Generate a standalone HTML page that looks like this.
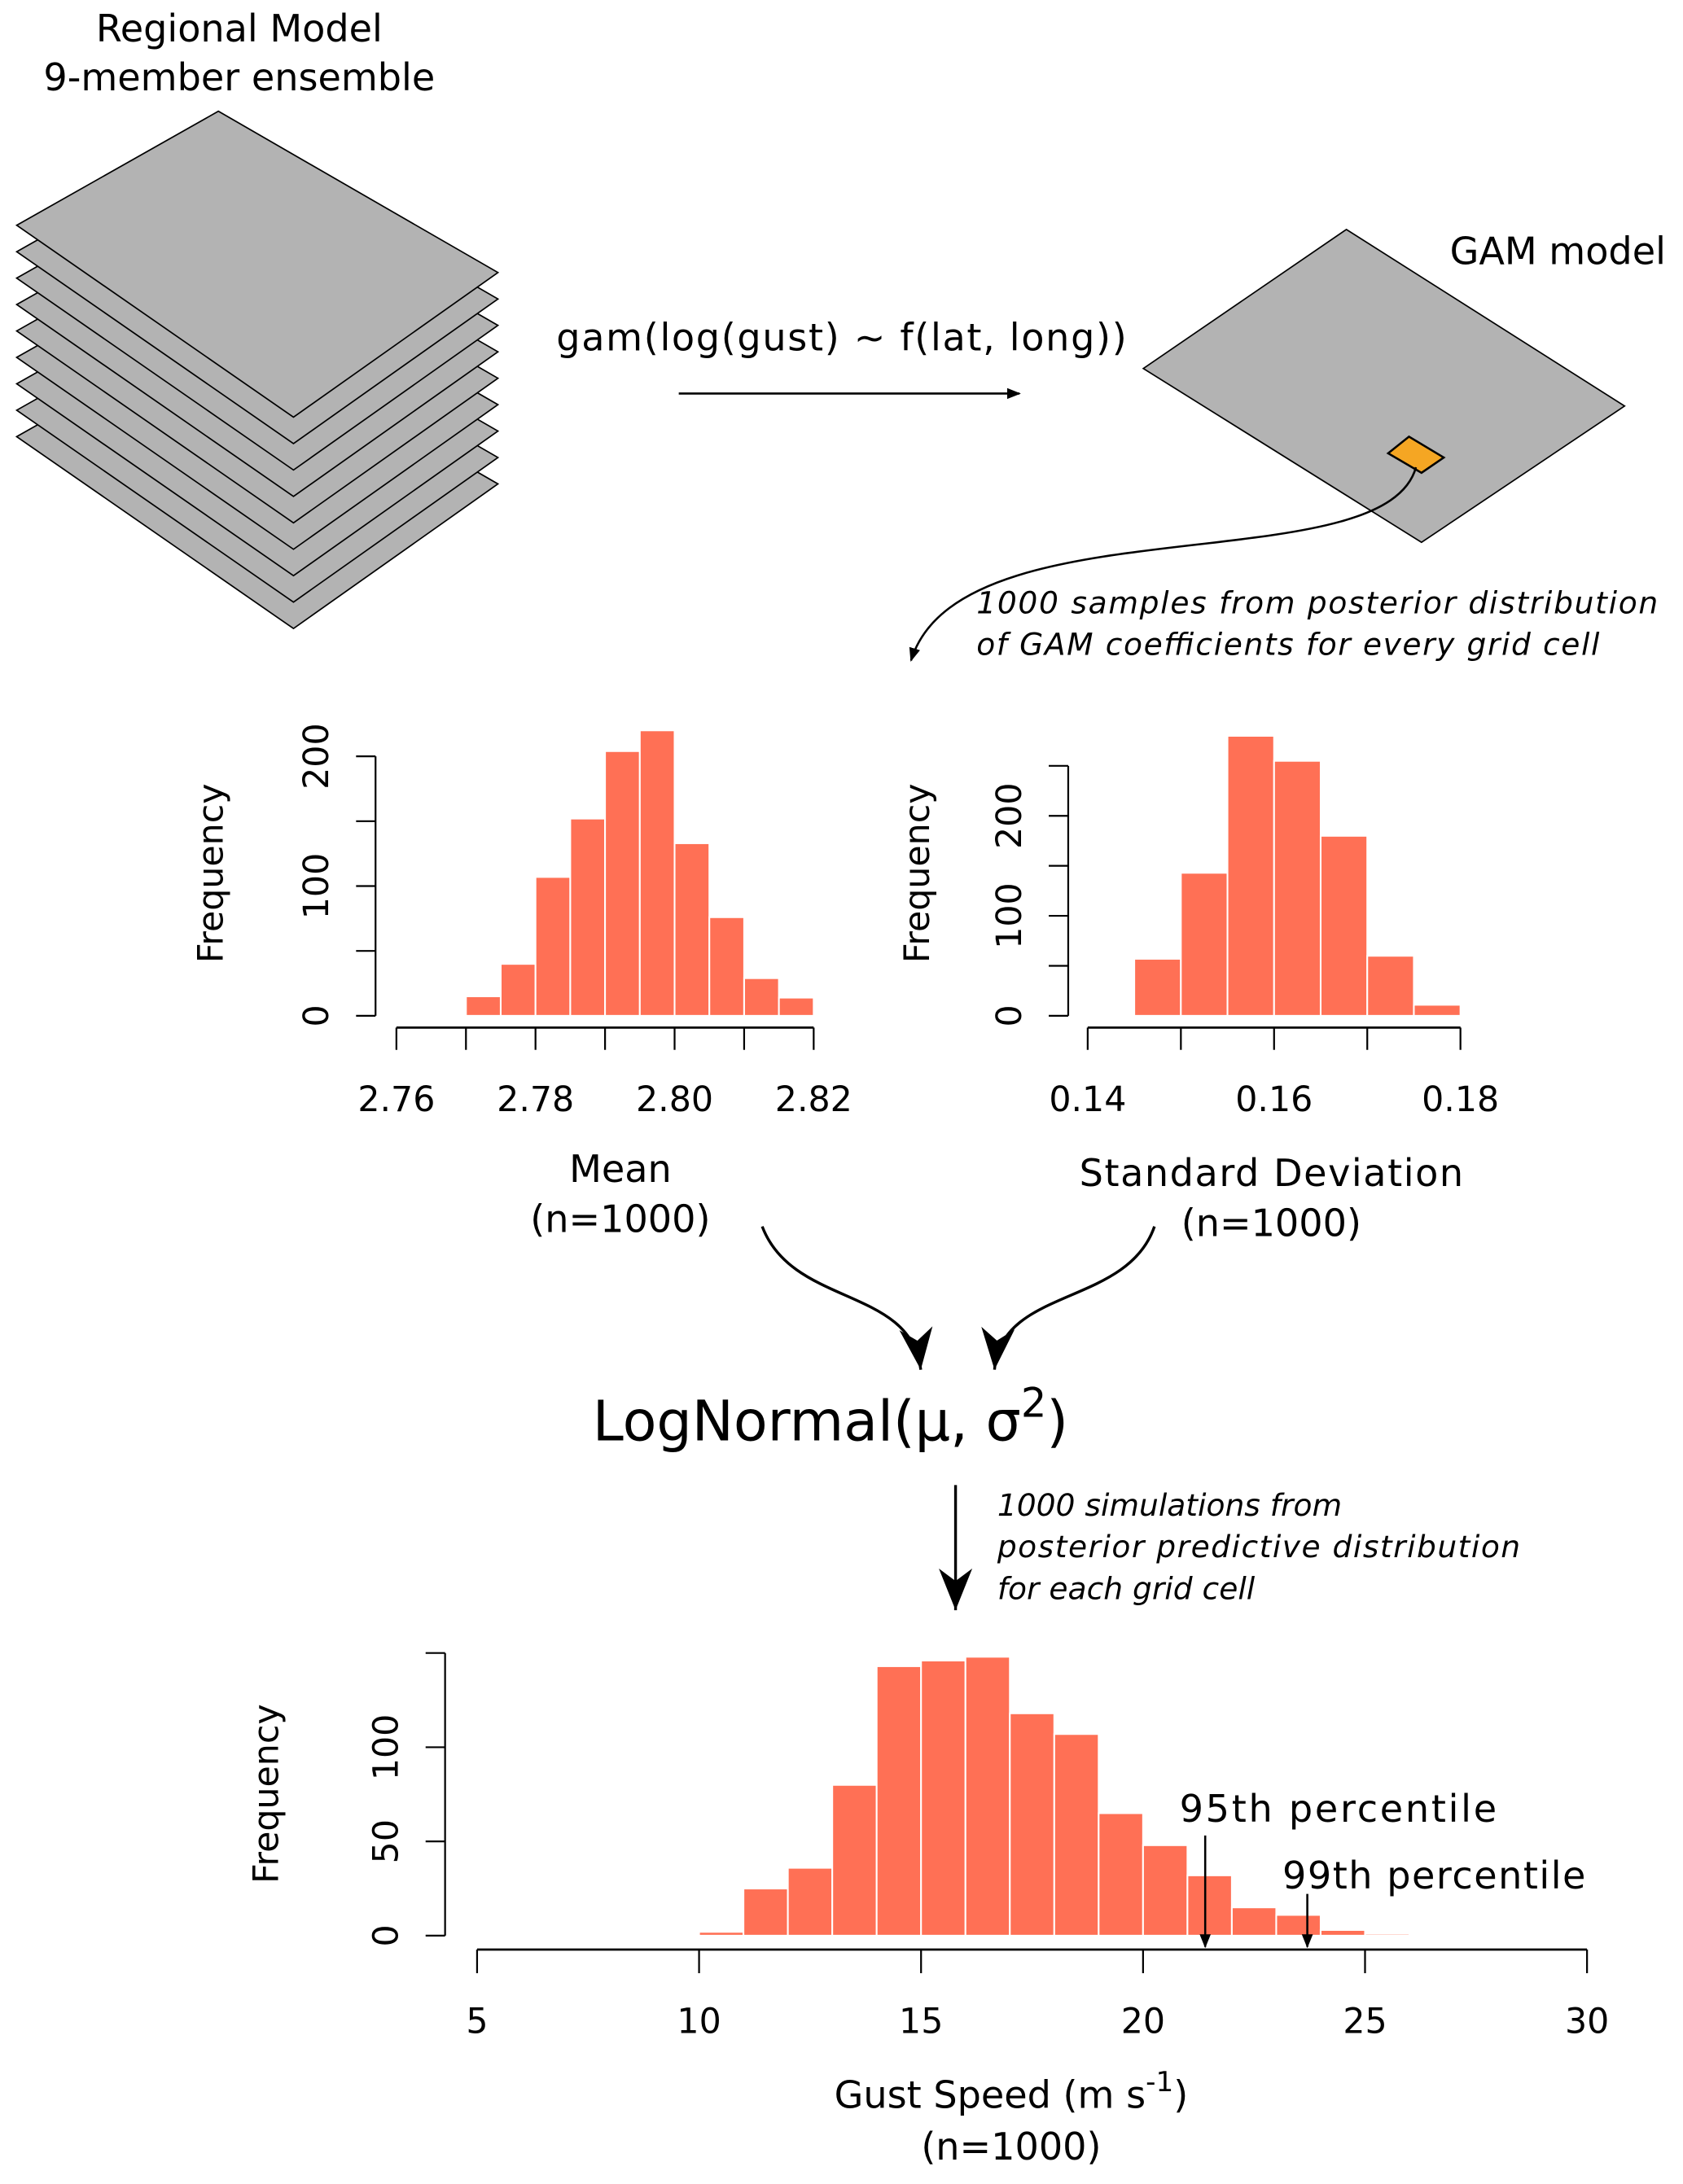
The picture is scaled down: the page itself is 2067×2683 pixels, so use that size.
<!DOCTYPE html>
<html><head><meta charset="utf-8"><style>
html,body{margin:0;padding:0;background:#fff}
svg{display:block;font-family:"DejaVu Sans","Liberation Sans",sans-serif}
</style></head><body>
<svg id="fig" width="2067" height="2683" viewBox="0 0 1210 1570.6" preserveAspectRatio="none" xmlns="http://www.w3.org/2000/svg">
<defs>
<marker id="ah" markerWidth="10" markerHeight="10" refX="9" refY="5" orient="auto" markerUnits="userSpaceOnUse"><path d="M0,1 L10,5 L0,9 Z" fill="#000"/></marker>
<marker id="ahb" markerWidth="32" markerHeight="26" refX="30" refY="12" orient="auto" markerUnits="userSpaceOnUse" viewBox="0 0 32 24"><path d="M30,12 L0,0 L9,12 L0,24 Z" fill="#000"/></marker>
</defs>
<g id="stack"></g>
<text x="172" y="30" font-size="27" text-anchor="middle">Regional Model</text>
<text x="172" y="65" font-size="27" text-anchor="middle">9-member ensemble</text>
<text x="400" y="252" font-size="27" textLength="410">gam(log(gust) ~ f(lat, long))</text>
<line x1="488" y1="283" x2="733" y2="283" stroke="#000" stroke-width="1.5" marker-end="url(#ah)"/>
<text x="1120" y="190" font-size="27" text-anchor="middle">GAM model</text>
<polygon points="822,265 968,165 1168,292 1022,390" fill="#b3b3b3" stroke="#000" stroke-width="1"/>
<polygon points="998,326 1013,314 1038,329 1022,340" fill="#f5a623" stroke="#000" stroke-width="1.5"/>
<path d="M1018,336 C995,420 690,360 655,475" fill="none" stroke="#000" stroke-width="1.5" marker-end="url(#ah)"/>
<text x="702" y="441" font-size="22" font-style="italic" textLength="490">1000 samples from posterior distribution</text>
<text x="702" y="471" font-size="22" font-style="italic" textLength="448">of GAM coefficients for every grid cell</text>
<g id="h1"></g>
<g id="h2"></g>
<text x="446" y="850" font-size="27" text-anchor="middle">Mean</text>
<text x="446" y="886" font-size="27" text-anchor="middle">(n=1000)</text>
<text x="914" y="853" font-size="27" text-anchor="middle" textLength="276">Standard Deviation</text>
<text x="914" y="889" font-size="27" text-anchor="middle">(n=1000)</text>
<path d="M548,882 C570,940 655,925 662,985" fill="none" stroke="#000" stroke-width="2" marker-end="url(#ahb)"/>
<path d="M830,882 C810,940 720,925 715,985" fill="none" stroke="#000" stroke-width="2" marker-end="url(#ahb)"/>
<text x="426" y="1036" font-size="40">LogNormal(μ, σ<tspan font-size="29" dy="-17">2</tspan><tspan dy="17">)</tspan></text>
<line x1="687" y1="1068" x2="687" y2="1158" stroke="#000" stroke-width="2" marker-end="url(#ahb)"/>
<text x="717" y="1090" font-size="22" font-style="italic">1000 simulations from</text>
<text x="717" y="1120" font-size="22" font-style="italic" textLength="376">posterior predictive distribution</text>
<text x="717" y="1150" font-size="22" font-style="italic">for each grid cell</text>
<g id="h3"></g>
<text x="727" y="1516" font-size="27" text-anchor="middle">Gust Speed (m s<tspan font-size="20" dy="-12">-1</tspan><tspan dy="12">)</tspan></text>
<text x="727" y="1553" font-size="27" text-anchor="middle">(n=1000)</text>
</svg>
<script>
// Mean histogram data
const meanBins = [2.770,2.775,2.780,2.785,2.790,2.795,2.800,2.805,2.810,2.815];
const meanCounts = [15,40,107,152,204,220,133,76,29,14];
const meanXTicks = [2.76,2.78,2.80,2.82];
const meanXLabels = ["2.76","2.78","2.80","2.82"];
const meanYTicks = [0,50,100,150,200];
const meanYLabels = ["0","","100","","200"];
// SD histogram data
const sdBins = [0.145,0.150,0.155,0.160,0.165,0.170,0.175];
const sdCounts = [57,143,280,255,180,60,11];
const sdXTicks = [0.14,0.16,0.18];
const sdXLabels = ["0.14","0.16","0.18"];
const sdYTicks = [0,50,100,150,200,250];
const sdYLabels = ["0","","100","","200",""];
// Gust histogram data
const gustBins = [10,11,12,13,14,15,16,17,18,19,20,21,22,23,24,25];
const gustCounts = [2,25,36,80,143,146,148,118,107,65,48,32,15,11,3,1];
const gustXTicks = [5,10,15,20,25,30];
const gustXLabels = ["5","10","15","20","25","30"];
const gustYTicks = [0,50,100,150];
const gustYLabels = ["0","50","100",""];
const p95 = 21.4, p99 = 23.7;

const NS="http://www.w3.org/2000/svg";
function mk(tag, attrs, parent){const e=document.createElementNS(NS,tag);for(const k in attrs)e.setAttribute(k,attrs[k]);parent.appendChild(e);return e;}

const stack=document.getElementById('stack');
for(let i=8;i>=0;i--){
  const d=i*19;
  const p=mk('polygon',{points:`12,${162+d} 157,${80+d} 358,${196+d} 211,${300+d}`,fill:'#b3b3b3',stroke:'#000','stroke-width':1},stack);
  
  
}

function hist(g, cfg){
  const sx=v=>cfg.x0+(v-cfg.xmin)/(cfg.xmax-cfg.xmin)*(cfg.x1-cfg.x0);
  const sy=v=>cfg.y0-v*cfg.ky;
  cfg.bins.forEach((b,i)=>{
    const r=mk('rect',{x:sx(b),y:sy(cfg.counts[i]),width:sx(b+cfg.w)-sx(b),height:sy(0)-sy(cfg.counts[i]),fill:'#ff7055',stroke:'#fff','stroke-width':1.2},g);
    
    
  });
  const ya=mk('line',{x1:cfg.yax,x2:cfg.yax,y1:sy(cfg.yt[0]),y2:sy(cfg.yt[cfg.yt.length-1]),stroke:'#000','stroke-width':1.3},g);
  
  
  cfg.yt.forEach((t,i)=>{
    mk('line',{x1:cfg.yax-14,x2:cfg.yax,y1:sy(t),y2:sy(t),stroke:'#000','stroke-width':1.3},g);
    if(cfg.yl[i]){
      const tx=mk('text',{x:0,y:0,'font-size':25,'text-anchor':'middle',transform:`translate(${cfg.yax-34},${sy(t)}) rotate(-90)`},g);
      tx.textContent=cfg.yl[i];
      
      
    }
  });
  const yt=mk('text',{x:0,y:0,'font-size':25,'text-anchor':'middle',transform:`translate(${cfg.ytitleX},${cfg.ytitleY}) rotate(-90)`},g);
  yt.textContent='Frequency';
  
  
  const xa=mk('line',{x1:sx(cfg.xt[0]),x2:sx(cfg.xt[cfg.xt.length-1]),y1:cfg.xay,y2:cfg.xay,stroke:'#000','stroke-width':1.6},g);
  
  
  const minor = cfg.minor||[];
  cfg.xt.concat(minor).forEach(t=>mk('line',{x1:sx(t),x2:sx(t),y1:cfg.xay,y2:cfg.xay+cfg.tickLen,stroke:'#000','stroke-width':1.3},g));
  cfg.xt.forEach((t,i)=>{
    const tx=mk('text',{x:sx(t),y:cfg.xlabY,'font-size':25,'text-anchor':'middle'},g);
    tx.textContent=cfg.xl[i];
    
    
  });
  return {sx,sy};
}
hist(document.getElementById('h1'),{bins:meanBins,counts:meanCounts,w:0.005,xmin:2.76,xmax:2.82,x0:285,x1:585,y0:730.5,ky:0.933,
  yt:meanYTicks,yl:meanYLabels,yax:270,ytitleX:160,ytitleY:628,xt:meanXTicks,xl:meanXLabels,minor:[2.77,2.79,2.81],xay:739,tickLen:16,xlabY:799});
hist(document.getElementById('h2'),{bins:sdBins,counts:sdCounts,w:0.005,xmin:0.14,xmax:0.18,x0:782,x1:1050,y0:730.5,ky:0.719,
  yt:sdYTicks,yl:sdYLabels,yax:768,ytitleX:668,ytitleY:628,xt:sdXTicks,xl:sdXLabels,minor:[0.15,0.17],xay:739,tickLen:16,xlabY:799});
const g3=hist(document.getElementById('h3'),{bins:gustBins,counts:gustCounts,w:1,xmin:5,xmax:30,x0:343,x1:1141,y0:1392,ky:1.355,
  yt:gustYTicks,yl:gustYLabels,yax:320,ytitleX:200,ytitleY:1290,xt:gustXTicks,xl:gustXLabels,xay:1402,tickLen:17,xlabY:1462});
const h3=document.getElementById('h3');
[[p95,1320,'95th percentile',848,1310,228],[p99,1362,'99th percentile',922,1358,218]].forEach(a=>{
  const l=mk('line',{x1:g3.sx(a[0]),x2:g3.sx(a[0]),y1:a[1],y2:1400,stroke:'#000','stroke-width':1.5,'marker-end':'url(#ah)'},h3);
  
  
  const t=mk('text',{x:a[3],y:a[4],'font-size':27,textLength:a[5]},h3);
  t.textContent=a[2];
  
  
});
</script>
</body></html>
